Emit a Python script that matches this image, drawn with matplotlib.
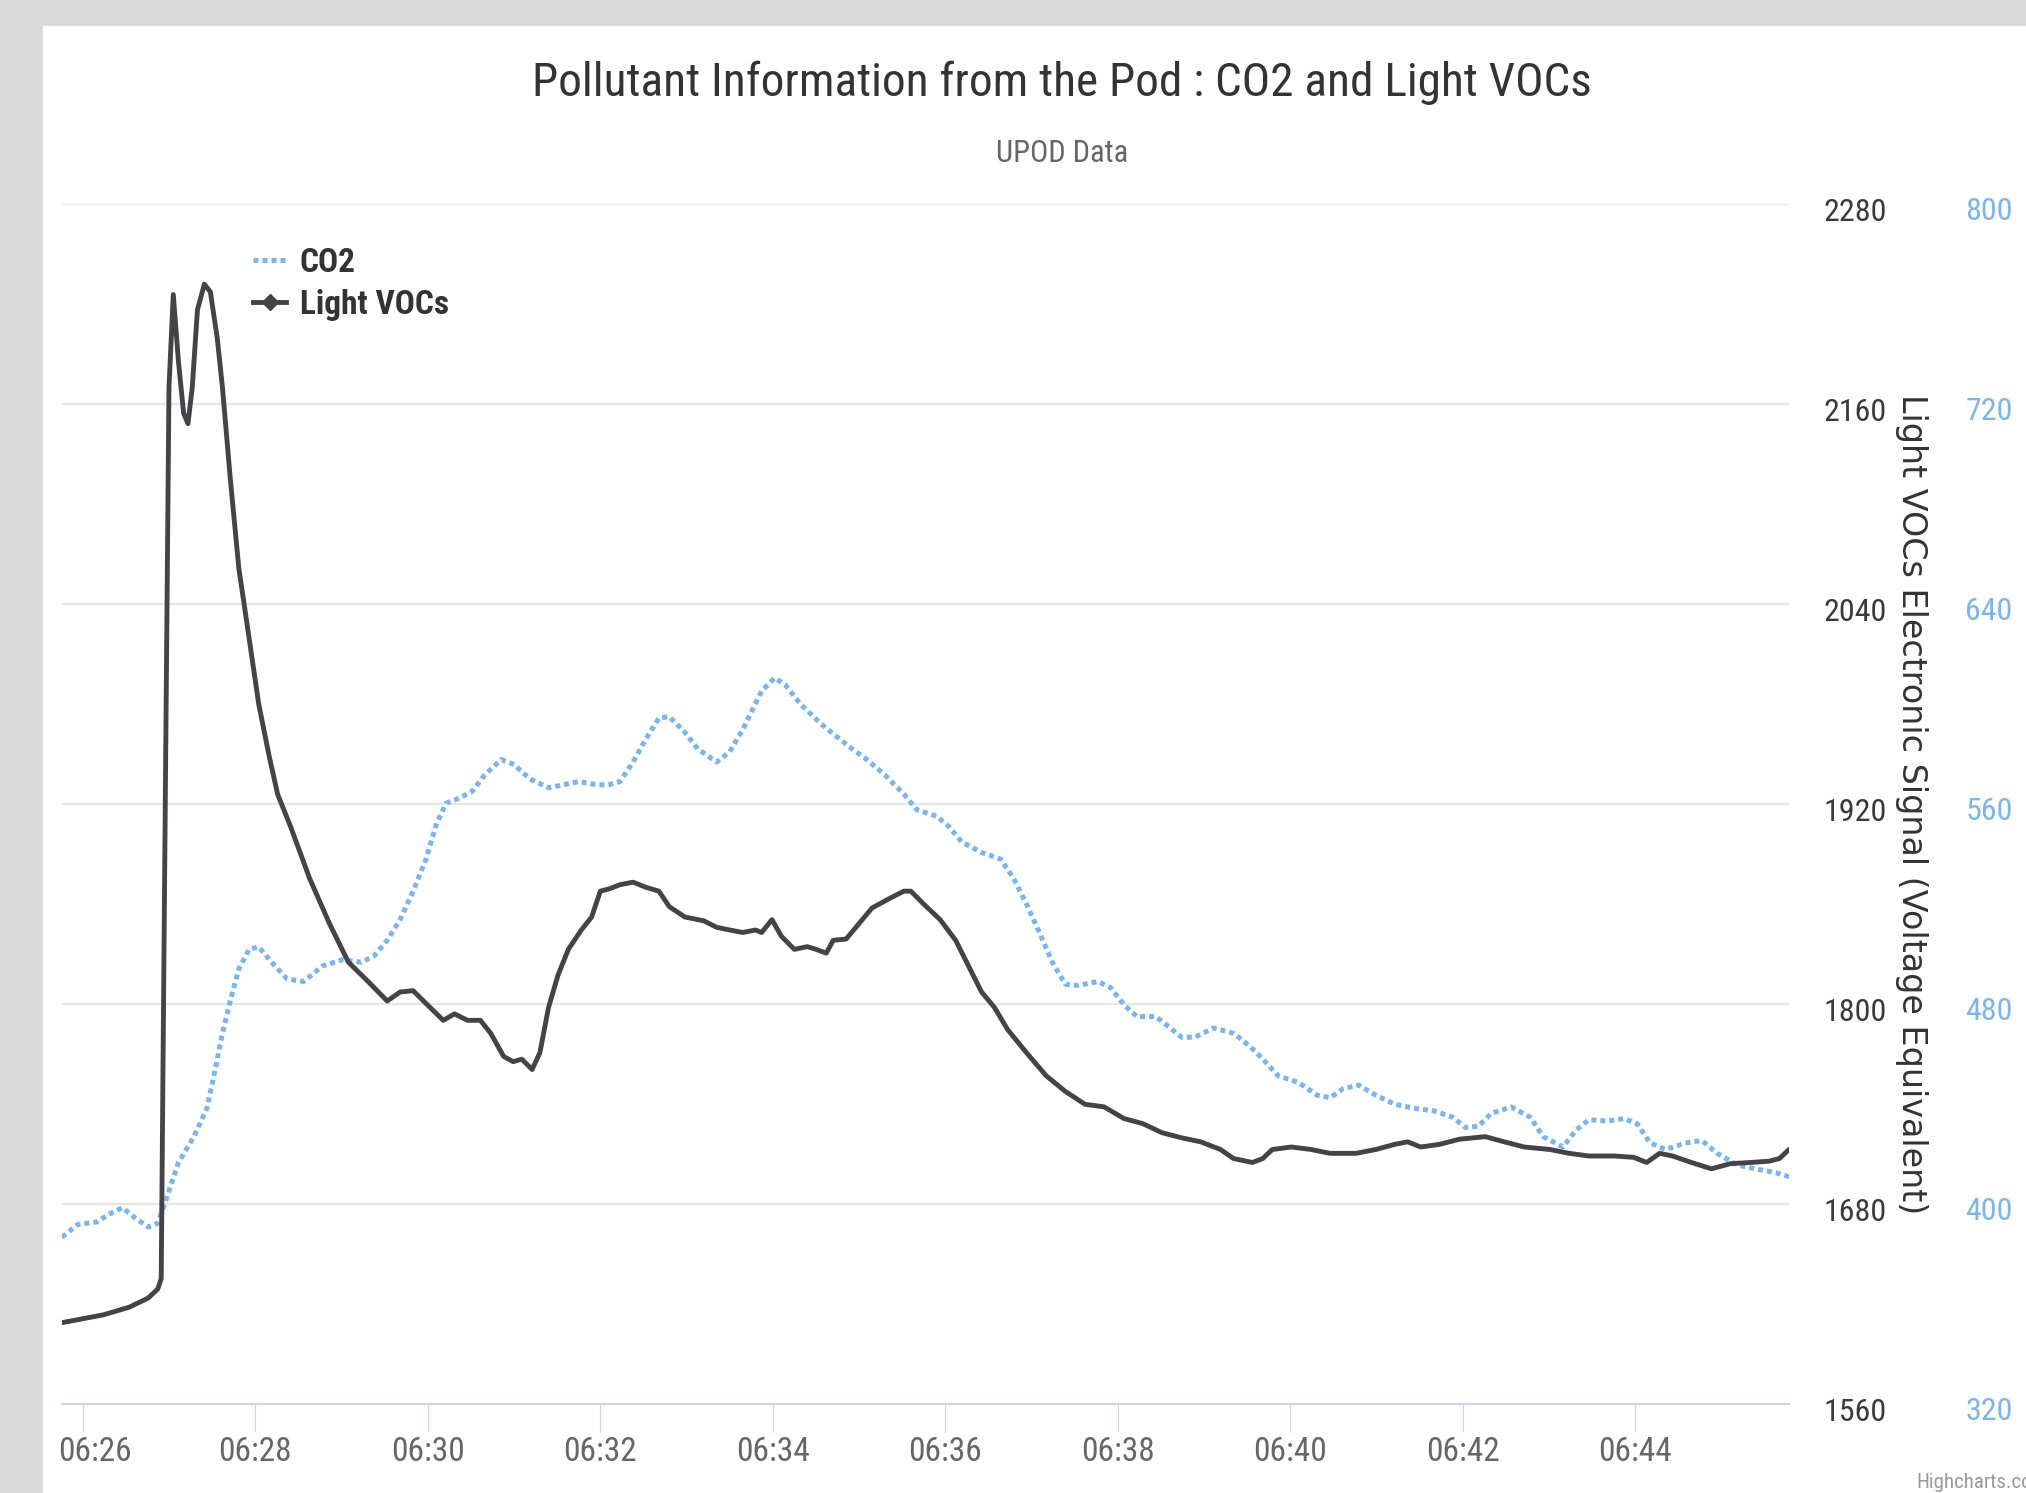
import matplotlib
matplotlib.use("Agg")
import matplotlib.pyplot as plt
from matplotlib import font_manager
from matplotlib.lines import Line2D
from matplotlib.patches import Rectangle
from matplotlib.ticker import FixedLocator, FuncFormatter
from matplotlib.transforms import ScaledTranslation

# minutes after 06:00
voc_t = [25.76, 26.24, 26.54, 26.76, 26.87, 26.91, 26.96, 27.00, 27.05, 27.11,
         27.17, 27.22, 27.27, 27.33, 27.41, 27.48, 27.56, 27.62, 27.71, 27.81,
         27.92, 28.04, 28.16, 28.26, 28.41, 28.63, 28.86, 29.08, 29.31, 29.53,
         29.68, 29.83, 29.98, 30.18, 30.31, 30.46, 30.61, 30.73, 30.88, 30.99,
         31.09, 31.21, 31.30, 31.40, 31.51, 31.63, 31.78, 31.90, 32.00, 32.11,
         32.23, 32.38, 32.53, 32.68, 32.80, 32.98, 33.20, 33.35, 33.50, 33.65,
         33.80, 33.87, 33.99, 34.10, 34.25, 34.40, 34.50, 34.62, 34.70, 34.85,
         35.00, 35.15, 35.37, 35.52, 35.60, 35.75, 35.94, 36.12, 36.27, 36.42,
         36.57, 36.72, 36.94, 37.17, 37.39, 37.62, 37.84, 38.07, 38.29, 38.51,
         38.74, 38.96, 39.19, 39.34, 39.56, 39.68, 39.79, 40.01, 40.24, 40.46,
         40.76, 40.99, 41.21, 41.36, 41.51, 41.73, 41.96, 42.26, 42.48, 42.71,
         43.01, 43.23, 43.46, 43.75, 43.98, 44.13, 44.28, 44.43, 44.65, 44.88,
         45.10, 45.33, 45.55, 45.67, 45.78]
voc = [1608.8, 1613.5, 1618.1, 1623.6, 1629.0, 1635.2, 1937.4, 2169.9, 2225.7, 2185.4,
       2154.4, 2148.2, 2169.9, 2216.4, 2231.9, 2227.3, 2199.4, 2169.9, 2115.7, 2061.4,
       2022.7, 1980.1, 1949.1, 1925.8, 1906.4, 1875.4, 1848.3, 1825.1, 1813.4, 1801.8,
       1807.2, 1808.0, 1800.3, 1790.2, 1794.1, 1790.2, 1790.2, 1782.4, 1768.5, 1765.4,
       1766.9, 1760.7, 1770.8, 1797.9, 1817.3, 1832.8, 1844.4, 1852.2, 1867.7, 1869.2,
       1871.6, 1873.1, 1870.0, 1867.7, 1858.4, 1852.2, 1849.9, 1846.0, 1844.4, 1842.9,
       1844.4, 1842.9, 1850.6, 1840.6, 1832.8, 1834.4, 1832.8, 1830.5, 1838.2, 1839.0,
       1848.3, 1857.6, 1863.8, 1867.7, 1867.7, 1859.9, 1850.6, 1838.2, 1822.7, 1807.2,
       1797.9, 1784.8, 1770.8, 1756.9, 1747.6, 1739.8, 1738.3, 1731.3, 1728.2, 1722.8,
       1719.7, 1717.3, 1712.7, 1707.3, 1704.9, 1707.3, 1712.7, 1714.2, 1712.7, 1710.4,
       1710.4, 1712.7, 1715.8, 1717.3, 1714.2, 1715.8, 1718.9, 1720.4, 1717.3, 1714.2,
       1712.7, 1710.4, 1708.8, 1708.8, 1708.0, 1704.9, 1710.4, 1708.8, 1704.9, 1701.1,
       1704.2, 1704.9, 1705.7, 1707.3, 1712.7]

co2_t = [25.76, 25.94, 26.16, 26.31, 26.46, 26.61, 26.76, 26.87, 26.96, 27.11,
         27.29, 27.44, 27.53, 27.62, 27.71, 27.81, 27.93, 28.04, 28.19, 28.37,
         28.56, 28.78, 29.01, 29.23, 29.38, 29.53, 29.68, 29.83, 29.98, 30.09,
         30.21, 30.36, 30.51, 30.66, 30.85, 31.00, 31.18, 31.40, 31.55, 31.75,
         31.90, 32.08, 32.23, 32.38, 32.53, 32.68, 32.80, 32.98, 33.13, 33.35,
         33.50, 33.65, 33.87, 34.02, 34.14, 34.32, 34.55, 34.77, 34.92, 35.07,
         35.30, 35.52, 35.67, 35.90, 36.04, 36.19, 36.42, 36.64, 36.79, 36.94,
         37.09, 37.24, 37.39, 37.54, 37.77, 37.92, 38.07, 38.22, 38.44, 38.59,
         38.74, 38.89, 39.11, 39.34, 39.53, 39.68, 39.86, 40.09, 40.31, 40.46,
         40.61, 40.79, 40.99, 41.21, 41.43, 41.66, 41.88, 42.03, 42.18, 42.33,
         42.56, 42.78, 42.93, 43.16, 43.31, 43.46, 43.68, 43.87, 44.02, 44.17,
         44.35, 44.58, 44.77, 44.95, 45.18, 45.40, 45.63, 45.78]
co2 = [386.7, 391.8, 392.8, 396.0, 398.5, 394.4, 390.8, 392.3, 401.1, 416.6,
       427.0, 438.3, 452.8, 468.3, 481.2, 494.1, 501.9, 502.9, 496.7, 490.0,
       489.0, 495.2, 497.7, 496.7, 499.3, 505.5, 513.8, 525.1, 538.0, 551.0,
       560.3, 562.3, 564.9, 571.6, 577.8, 575.8, 570.1, 566.5, 567.5, 569.0,
       568.0, 567.5, 569.0, 576.8, 586.1, 594.4, 594.9, 588.7, 582.0, 576.8,
       580.9, 589.7, 605.2, 610.4, 607.8, 600.0, 592.3, 586.1, 582.0, 578.3,
       571.6, 563.9, 557.7, 555.1, 551.0, 544.8, 540.6, 538.0, 530.3, 520.0,
       508.6, 496.7, 487.9, 487.4, 489.0, 486.4, 479.7, 475.0, 475.0, 470.9,
       466.7, 466.7, 470.4, 468.3, 463.1, 458.0, 451.2, 448.7, 443.5, 442.5,
       446.1, 447.6, 443.5, 439.9, 438.3, 437.3, 434.7, 430.6, 431.1, 436.3,
       438.8, 434.7, 427.0, 422.8, 429.5, 433.7, 433.2, 434.2, 432.1, 424.4,
       421.8, 424.4, 425.4, 420.2, 415.6, 414.0, 412.5, 410.9]

x_ticks = [26, 28, 30, 32, 34, 36, 38, 40, 42, 44]
voc_ticks = [1560, 1680, 1800, 1920, 2040, 2160, 2280]
co2_ticks = [320, 400, 480, 560, 640, 720, 800]

BLUE = "#7cb5ec"
DARK = "#434348"

_names = {f.name for f in font_manager.fontManager.ttflist}
NARROW = next((n for n in ["Liberation Sans Narrow", "Roboto Condensed",
                           "Open Sans Condensed"] if n in _names), "DejaVu Sans")

W, H = 2026, 1493
fig = plt.figure(figsize=(W / 100, H / 100), dpi=100, facecolor="#d9d9d9")
fig.patches.append(Rectangle((43 / W, 0), 1 - 43 / W, 1 - 26 / H,
                             transform=fig.transFigure, color="white", zorder=-5))

L, R, T, B = 62, 1789, 204, 1404
ax = fig.add_axes([L / W, 1 - B / H, (R - L) / W, (B - T) / H])
ax.set_facecolor("none")
ax2 = ax.twinx()

# CO2 on the primary (drawn below), VOCs on the twin
ax.plot(co2_t, co2, color=BLUE, lw=3.6, linestyle=(0, (1, 0.8)))
ax2.plot(voc_t, voc, color=DARK, lw=3.5, solid_joinstyle="round",
         solid_capstyle="round")

ax.set_xlim(25.76, 45.78)
ax.set_ylim(320, 800)
ax2.set_ylim(1560, 2280)

ax.xaxis.set_major_locator(FixedLocator(x_ticks))
ax.xaxis.set_major_formatter(FuncFormatter(lambda v, p: f"06:{int(round(v)):02d}"))
ax.yaxis.set_major_locator(FixedLocator(co2_ticks))
ax2.yaxis.set_major_locator(FixedLocator(voc_ticks))
ax.yaxis.tick_right()

ax.grid(axis="y", color="#e6e6e6", lw=1.5)
ax.set_axisbelow(True)
for s in ax.spines.values():
    s.set_visible(False)
for s in ax2.spines.values():
    s.set_visible(False)
ax.spines["bottom"].set_visible(True)
ax.spines["bottom"].set_color("#ccd6eb")
ax.spines["bottom"].set_linewidth(1.5)

ax.tick_params(axis="x", length=20, width=0.8, color="#ccd6eb", pad=3,
               labelcolor="#666666", labelsize=24)
ax.tick_params(axis="y", length=0, pad=127, labelcolor=BLUE, labelsize=23)
ax2.tick_params(axis="y", length=0, pad=24.5, labelcolor="#3a3a3a", labelsize=23)

down = ScaledTranslation(0, -0.05, fig.dpi_scale_trans)
for lab in ax.get_xticklabels() + ax.get_yticklabels() + ax2.get_yticklabels():
    lab.set_fontfamily(NARROW)
for lab in ax.get_yticklabels() + ax2.get_yticklabels():
    lab.set_transform(lab.get_transform() + down)
# first time label is nudged right so it stays inside the plot
first = ax.get_xticklabels()[0]
first.set_transform(first.get_transform() + ScaledTranslation(0.12, 0, fig.dpi_scale_trans))

fig.text(1062 / W, 1 - 83 / H, "Pollutant Information from the Pod : CO2 and Light VOCs",
         ha="center", va="center", fontsize=34, color="#333333", family=NARROW)
fig.text(1062 / W, 1 - 154 / H, "UPOD Data", ha="center", va="center",
         fontsize=22, color="#666666", family=NARROW)
fig.text(1911 / W, 1 - 804 / H, "Light VOCs Electronic Signal (Voltage Equivalent)",
         rotation=270, ha="center", va="center", fontsize=24, color="#333333")
fig.text(1916 / W, 1 - 1482 / H, "Highcharts.com", ha="left", va="center",
         fontsize=15, color="#999999", family=NARROW)

handles = [Line2D([], [], color=BLUE, lw=3.6, linestyle=(0, (1, 0.8))),
           Line2D([], [], color=DARK, lw=3.5, marker="D", markersize=8)]
ax2.legend(handles, ["CO2", "Light VOCs"], loc="upper left",
           bbox_to_anchor=(0.101, 0.978), frameon=False, borderpad=0,
           handlelength=1.0, handletextpad=0.4, labelspacing=0.3,
           prop={"family": NARROW, "weight": "bold", "size": 24},
           labelcolor="#333333")

fig.savefig("out.png", dpi=100, facecolor=fig.get_facecolor())
